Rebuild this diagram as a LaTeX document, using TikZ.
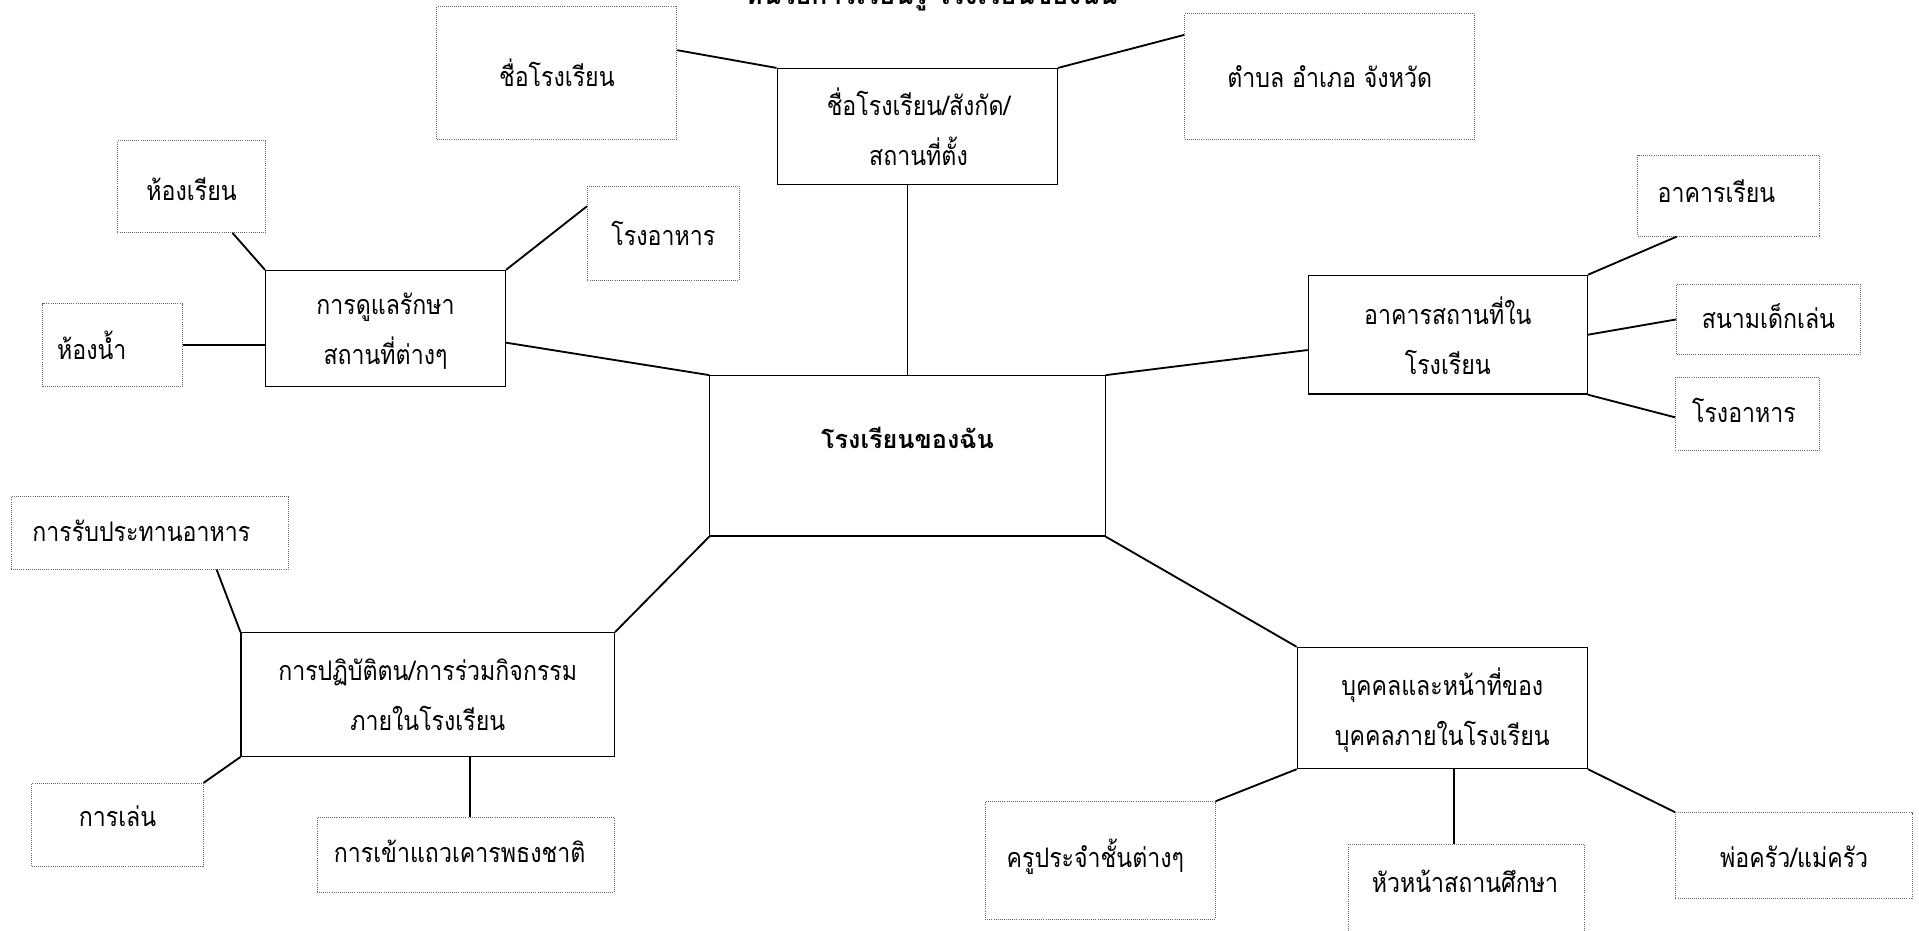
\documentclass[tikz,border=0pt]{standalone}
\usepackage{fontspec}
\newfontfamily\thaifont[Script=Thai,FakeStretch=0.86]{Loma}
\newfontfamily\thaiboldfont[Script=Thai]{Loma}
\begin{document}
\begin{tikzpicture}[x=1pt,y=-1pt,
  solidbox/.style={draw=black,line width=1pt,inner sep=0pt,fill=white},
  dotbox/.style={draw=black!60,densely dotted,line width=0.7pt,inner sep=0pt,fill=white},
  txt/.style={font=\thaifont\fontsize{22}{41}\selectfont,align=center,inner sep=0pt},
  boldtxt/.style={font=\thaiboldfont\bfseries\fontsize{20.6}{24}\selectfont,inner sep=0pt},
  titletxt/.style={font=\thaiboldfont\bfseries\fontsize{21.6}{24}\selectfont,inner sep=0pt},
  link/.style={draw=black,line width=1.5pt}]
\useasboundingbox (0,0) rectangle (1568,760);
% boxes
\node[dotbox,minimum width=196pt,minimum height=109pt] (name1) at (455,59.5) {};
\node[solidbox,minimum width=229pt,minimum height=95pt] (top) at (749.5,103.5) {};
\node[dotbox,minimum width=237pt,minimum height=103pt] (loc) at (1086.5,62.5) {};
\node[dotbox,minimum width=121pt,minimum height=75pt] (room) at (156.5,152.5) {};
\node[dotbox,minimum width=124pt,minimum height=77pt] (canL) at (542,190.5) {};
\node[solidbox,minimum width=196pt,minimum height=95pt] (care) at (315,268.5) {};
\node[dotbox,minimum width=114pt,minimum height=68pt] (toilet) at (92,282) {};
\node[solidbox,minimum width=323pt,minimum height=131pt] (mid) at (741.5,372.5) {};
\node[dotbox,minimum width=149pt,minimum height=66pt] (bldg) at (1412.5,160) {};
\node[solidbox,minimum width=228pt,minimum height=97pt] (bldgs) at (1183,273.5) {};
\node[dotbox,minimum width=150pt,minimum height=58pt] (play) at (1445,261) {};
\node[dotbox,minimum width=118pt,minimum height=60pt] (canR) at (1428,338) {};
\node[dotbox,minimum width=227pt,minimum height=59pt] (eat) at (122.5,435.5) {};
\node[solidbox,minimum width=305pt,minimum height=101pt] (act) at (349.5,567.5) {};
\node[dotbox,minimum width=140pt,minimum height=68pt] (game) at (96,674) {};
\node[dotbox,minimum width=243pt,minimum height=61pt] (flag) at (380.5,698.5) {};
\node[solidbox,minimum width=237pt,minimum height=99pt] (people) at (1178.5,578.5) {};
\node[dotbox,minimum width=188pt,minimum height=96pt] (teacher) at (899,703) {};
\node[dotbox,minimum width=193pt,minimum height=90pt] (head) at (1198.5,735) {};
\node[dotbox,minimum width=194pt,minimum height=70pt] (cook) at (1466,699) {};
% texts
\node[titletxt,anchor=base] (title) at (761,4) {หน่วยการเรียนรู้ โรงเรียนของฉัน};
\node[txt] (tname1) at (name1.center) {ชื่อโรงเรียน};
\node[txt] (ttop) at ([xshift=1pt]top.center) {ชื่อโรงเรียน/สังกัด/\\สถานที่ตั้ง};
\node[txt] (tloc) at (loc.center) {ตำบล อำเภอ จังหวัด};
\node[txt] (troom) at ([yshift=-2pt]room.center) {ห้องเรียน};
\node[txt] (tcanL) at (canL.center) {โรงอาหาร};
\node[txt] (tcare) at ([yshift=-2pt]care.center) {การดูแลรักษา\\สถานที่ต่างๆ};
\node[txt] (ttoilet) at ([xshift=-17pt]toilet.center) {ห้องน้ำ};
\node[boldtxt] (tmid) at ([yshift=15pt]mid.center) {โรงเรียนของฉัน};
\node[txt] (tbldg) at ([xshift=-10pt,yshift=4pt]bldg.center) {อาคารเรียน};
\node[txt] (tbldgs) at ([yshift=-1pt]bldgs.center) {อาคารสถานที่ใน\\โรงเรียน};
\node[txt] (tplay) at ([yshift=3pt]play.center) {สนามเด็กเล่น};
\node[txt] (tcanR) at ([xshift=-3pt,yshift=3pt]canR.center) {โรงอาหาร};
\node[txt] (teat) at ([xshift=-7pt,yshift=2pt]eat.center) {การรับประทานอาหาร};
\node[txt] (tact) at (act.center) {การปฏิบัติตน/การร่วมกิจกรรม\\ภายในโรงเรียน};
\node[txt] (tgame) at ([yshift=7pt]game.center) {การเล่น};
\node[txt] (tflag) at ([xshift=-5pt,yshift=3pt]flag.center) {การเข้าแถวเคารพธงชาติ};
\node[txt] (tpeople) at ([yshift=-2pt]people.center) {บุคคลและหน้าที่ของ\\บุคคลภายในโรงเรียน};
\node[txt] (tteacher) at ([xshift=-4pt,yshift=3pt]teacher.center) {ครูประจำชั้นต่างๆ};
\node[txt] (thead) at (1197,720) {หัวหน้าสถานศึกษา};
\node[txt] (tcook) at ([yshift=-1pt]cook.center) {พ่อครัว/แม่ครัว};
% connectors
\draw[link] ([yshift=18.5pt]name1.east) -- (top.north west);
\draw[link] (top.north east) -- ([yshift=34pt]loc.west);
\draw[link] (mid.north) -- (mid.north |- top.south);
\draw[link] ([yshift=-11.5pt]care.east) -- (mid.north west);
\draw[link] (mid.north east) -- ([yshift=-12.5pt]bldgs.west);
\draw[link] (mid.south west) -- (act.north east);
\draw[link] (mid.south east) -- (people.north west);
\draw[link] ([xshift=33.5pt]room.south) -- (care.north west);
\draw[link] ([yshift=22pt]canL.west) -- (care.north east);
\draw[link] (toilet.east) -- (toilet.east -| care.west);
\draw[link] (bldgs.north east) -- ([xshift=-42.5pt]bldg.south);
\draw[link] (bldgs.east) -- (play.west);
\draw[link] (bldgs.south east) -- ([yshift=-3pt]canR.west);
\draw[link] ([xshift=54.5pt]eat.south) -- (act.north west);
\draw[link] (act.south west) -- (game.north east);
\draw[link] ([xshift=34.5pt]act.south) -- ([xshift=3.5pt]flag.north);
\draw[link] (people.south west) -- (teacher.north east);
\draw[link] ([xshift=9.5pt]people.south) -- ([xshift=-10.5pt]head.north);
\draw[link] (people.south east) -- (cook.north west);
\end{tikzpicture}
\end{document}
